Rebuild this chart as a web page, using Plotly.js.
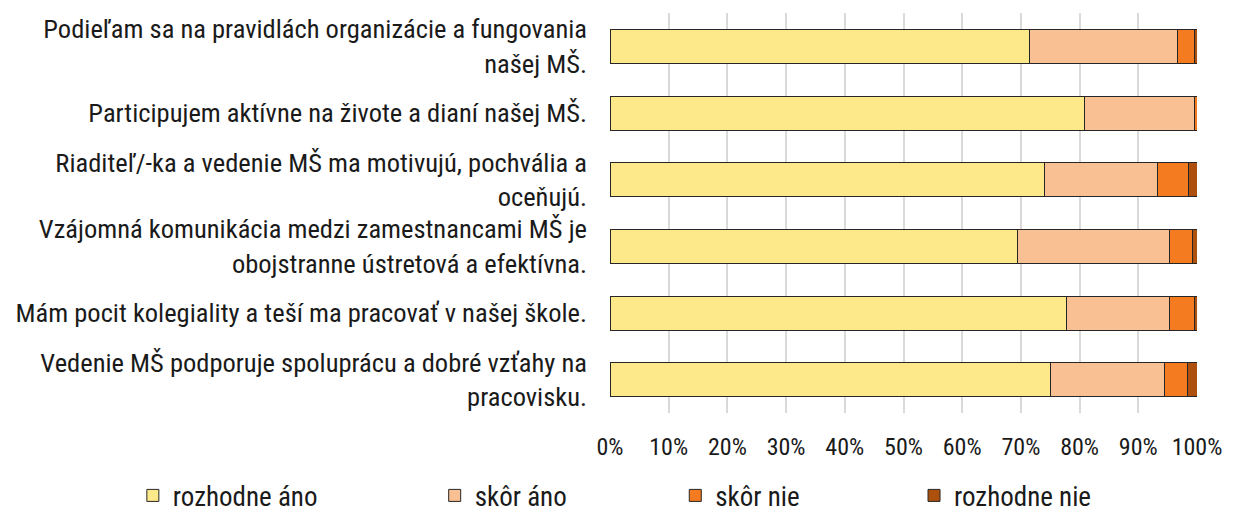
<!DOCTYPE html>
<html>
<head>
<meta charset="utf-8">
<script src="https://cdn.plot.ly/plotly-3.0.1.min.js"></script>
<style>
html,body{margin:0;padding:0;background:#fff;}
#chart{width:1237px;height:507px;}
</style>
</head>
<body>
<div id="chart"></div>
<script>
const categories = [
  "Podieľam sa na pravidlách organizácie a fungovania<br>našej MŠ.",
  "Participujem aktívne na živote a dianí našej MŠ.",
  "Riaditeľ/-ka a vedenie MŠ ma motivujú, pochvália a<br>oceňujú.",
  "Vzájomná komunikácia medzi zamestnancami MŠ je<br>obojstranne ústretová a efektívna.",
  "Mám pocit kolegiality a teší ma pracovať v našej škole.",
  "Vedenie MŠ podporuje spoluprácu a dobré vzťahy na<br>pracovisku."
];
const seriesNames = ["rozhodne áno", "skôr áno", "skôr nie", "rozhodne nie"];
const rozhodneAno = [0.715, 0.809, 0.740, 0.694, 0.778, 0.751];
const skorAno     = [0.251, 0.186, 0.193, 0.259, 0.175, 0.194];
const skorNie     = [0.029, 0.005, 0.053, 0.040, 0.043, 0.039];
const rozhodneNie = [0.005, 0.000, 0.014, 0.007, 0.004, 0.016];
const tickVals = [0,0.1,0.2,0.3,0.4,0.5,0.6,0.7,0.8,0.9,1.0];
const tickText = ["0%","10%","20%","30%","40%","50%","60%","70%","80%","90%","100%"];

const colors = ["#FEE98A", "#F9C093", "#F47B20", "#AE500D"];
const seriesValues = [rozhodneAno, skorAno, skorNie, rozhodneNie];
const legendIds = ["legend", "legend2", "legend3", "legend4"];
const FONT = "Roboto Condensed, Roboto, sans-serif";

const traces = seriesValues.map((vals, i) => ({
  type: "bar",
  orientation: "h",
  name: seriesNames[i],
  x: vals,
  y: categories,
  marker: {color: colors[i], line: {color: "#262626", width: 1}},
  legend: legendIds[i],
  hoverinfo: "x+name"
}));

const legendX = [0.1074, 0.3514, 0.5459, 0.7389];
const legendBase = {
  orientation: "h",
  xref: "container",
  yref: "container",
  y: 0.022,
  yanchor: "middle",
  xanchor: "left",
  font: {family: FONT, size: 27, color: "#1a1a1a"},
  bgcolor: "rgba(0,0,0,0)",
  borderwidth: 0
};

const layout = {
  width: 1237,
  height: 507,
  margin: {l: 610, r: 40, t: 13, b: 94},
  barmode: "stack",
  bargap: 0.49,
  paper_bgcolor: "#fff",
  plot_bgcolor: "#fff",
  font: {family: FONT, size: 24, color: "#1a1a1a"},
  xaxis: {
    range: [0, 1],
    tickmode: "array",
    tickvals: tickVals,
    ticktext: tickText,
    showgrid: true,
    gridcolor: "#d9d9d9",
    gridwidth: 2,
    zeroline: false,
    showline: false,
    ticks: "",
    ticklabelstandoff: 17,
    tickfont: {family: FONT, size: 24, color: "#1a1a1a"},
    fixedrange: true
  },
  yaxis: {
    type: "category",
    categoryorder: "array",
    categoryarray: categories,
    autorange: "reversed",
    showgrid: false,
    zeroline: false,
    showline: false,
    ticks: "",
    ticklabelstandoff: 22,
    tickfont: {family: FONT, size: 26.5, color: "#1a1a1a"},
    fixedrange: true
  },
  showlegend: true
};
legendIds.forEach((id, i) => {
  layout[id] = Object.assign({}, legendBase, {x: legendX[i]});
});

Plotly.newPlot("chart", traces, layout, {displayModeBar: false, staticPlot: true});
</script>
</body>
</html>
